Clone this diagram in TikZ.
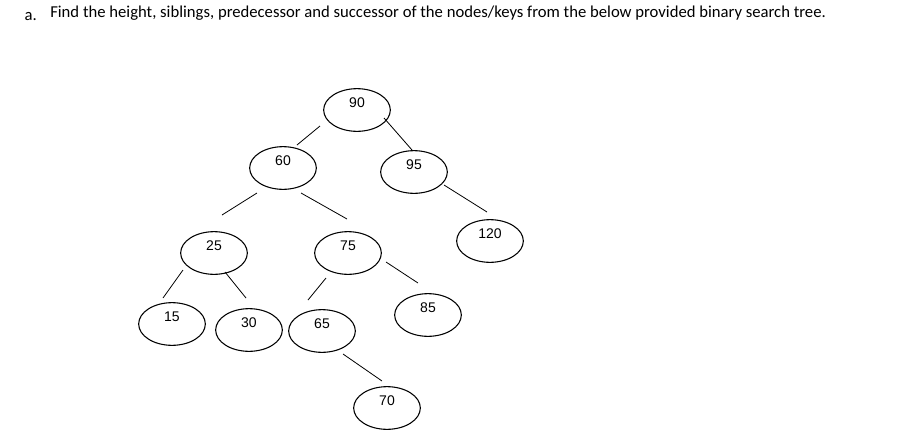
\documentclass[tikz,border=0pt]{standalone}
\usepackage{fontspec}
\usetikzlibrary{shapes.geometric}
\setmainfont{Liberation Sans}
\newfontfamily\calib{Carlito}
\begin{document}
\begin{tikzpicture}[x=0.75pt,y=-0.75pt,
  key/.style={draw,ellipse,line width=0.8pt,minimum width=50pt,minimum height=32pt,inner sep=0pt},
  lbl/.style={font=\fontsize{10.5}{12}\selectfont},
  edge/.style={line width=0.6pt}]
\useasboundingbox (0,0) rectangle (922,447);
\node[anchor=west,font=\calib\fontsize{12.5}{15}\selectfont] (a) at (20,17) {a.};
\node[anchor=north west,font=\calib\fontsize{12.5}{16}\selectfont,text width=640pt,align=justify,inner sep=0pt] (t) at (50,6) {Find the height, siblings, predecessor and successor of the nodes/keys from the below provided binary search tree.};
\foreach \n/\x/\y in {90/357/110,60/283/168,95/414/172,120/490/241,25/214/253,75/348/253,15/172/324,30/249/330,65/322/331,85/428/315,70/387/408}{
  \node[key] (k\n) at (\x,\y) {};
  \node[lbl] (l\n) at (\x,\y-7) {\n};
}
\foreach \i/\ax/\ay/\bx/\by in {1/297/145/320/126,2/384/118/412/150,3/444/185/487/212,4/222/215/257/193,5/301/193/347/219,6/183/270/163/298,7/225/272/246/298,8/326/278/308/300,9/386/262/418/283,10/343/354/382/381}{
  \coordinate (s\i) at (\ax,\ay);
  \coordinate (e\i) at (\bx,\by);
  \draw[edge] (s\i) -- (e\i);
}
\end{tikzpicture}
\end{document}
